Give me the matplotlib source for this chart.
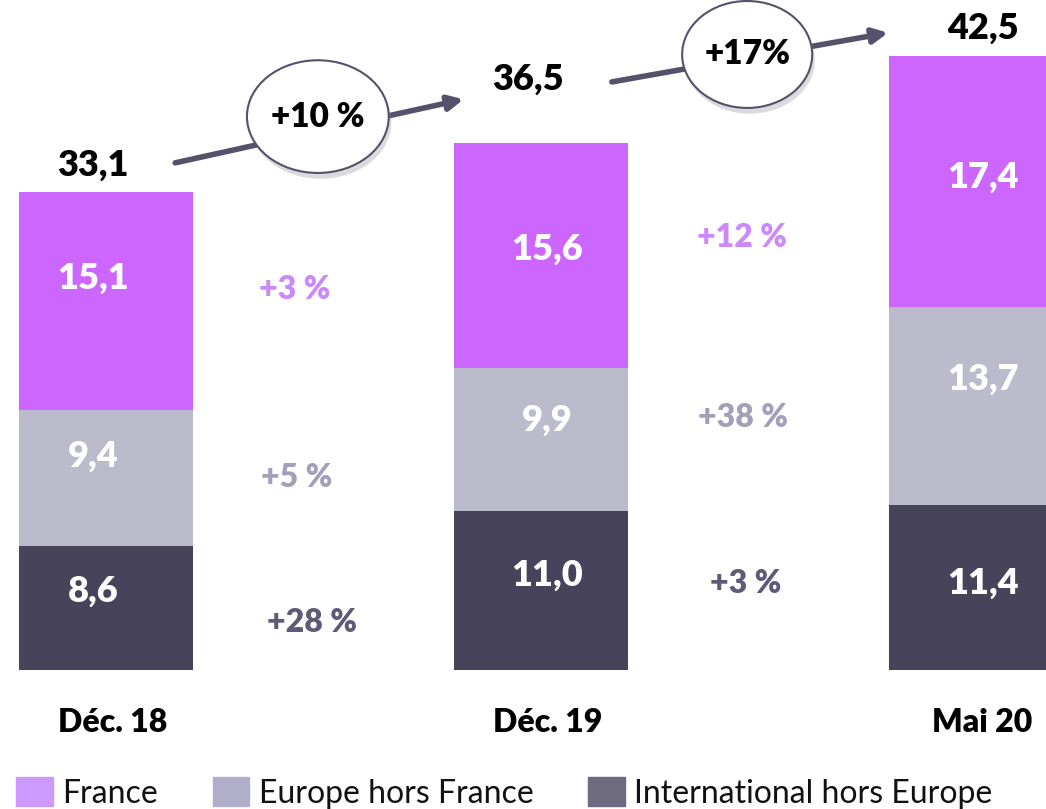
import matplotlib
matplotlib.use("Agg")
import matplotlib.pyplot as plt
from matplotlib.patches import Ellipse, Patch
import numpy as np

# data
periods = ["Déc. 18", "Déc. 19", "Mai 20"]
intl = [8.6, 11.0, 11.4]
europe = [9.4, 9.9, 13.7]
france = [15.1, 15.6, 17.4]
totals = ["33,1", "36,5", "42,5"]
growth_1 = ["+3 %", "+5 %", "+28 %"]      # Déc. 18 -> Déc. 19 (France, Europe, Intl)
growth_2 = ["+12 %", "+38 %", "+3 %"]     # Déc. 19 -> Mai 20
total_growth = ["+10 %", "+17%"]

c_fr, c_eu, c_int = "#cc66ff", "#bbbbcc", "#47435a"
c_fr_l, c_eu_l, c_int_l = "#cc99ff", "#b0aec8", "#6e6a80"
c_g = ["#cc88ff", "#a29fba", "#5e5a78"]
c_arrow = "#55516a"

bold = ["Lato", "DejaVu Sans"]
W = "heavy"

fig = plt.figure(figsize=(10.46, 8.09), dpi=100)
ax = fig.add_axes([0, 0, 1, 1])
ax.set_xlim(-0.2437, 2.161)
ax.set_ylim(-9.62, 46.37)
ax.axis("off")

x = np.arange(len(periods))
w = 0.398
ax.bar(x, intl, w, color=c_int)
ax.bar(x, europe, w, bottom=intl, color=c_eu)
ax.bar(x, france, w, bottom=np.add(intl, europe), color=c_fr)

def num(s):
    return float(s.replace(",", "."))

# segment values
dx = [-0.03, 0.015, 0.015]
lift = [[1.15, 1.5, 1.55], [1.05, 1.35, 0.45], [0.3, 1.85, 0.3]]
for i in range(len(x)):
    b = 0
    for j, v in enumerate((intl[i], europe[i], france[i])):
        ax.text(x[i] + dx[i], b + v / 2 + lift[i][j], f"{v:.1f}".replace(".", ","),
                ha="center", va="center", color="white", fontsize=26,
                fontweight=W, family=bold)
        b += v

# totals
tot_dy = [1.8, 4.4, 1.9]
tot_dx = [-0.03, -0.03, 0.015]
for i, t in enumerate(totals):
    ax.text(x[i] + tot_dx[i], num(t) + tot_dy[i], t, ha="center", va="center",
            fontsize=26, fontweight=W, color="black", family=bold)

# category labels
for i, p in enumerate(periods):
    ax.text(x[i] + 0.015, -3.6, p, ha="center", va="center", fontsize=23,
            fontweight=W, color="black", family=bold)

# growth per zone
g_y = [[26.3, 13.3, 3.3], [29.9, 17.5, 6.0]]
g_x = [[0.434, 0.439, 0.474], [1.462, 1.464, 1.471]]
for k, labels in enumerate([growth_1, growth_2]):
    for j, s in enumerate(labels):
        ax.text(g_x[k][j], g_y[k][j], s, ha="center", va="center", fontsize=23,
                fontweight=W, color=c_g[j], family=bold)

# total growth arrows with bubbles
arrows = [((0.159, 35.1), (0.822, 39.5)), ((1.163, 40.7), (1.798, 44.1))]
bubbles = [((0.487, 38.3), 0.326, 7.8), ((1.474, 42.6), 0.299, 7.4)]
for (a0, a1), (c, bw, bh), s in zip(arrows, bubbles, total_growth):
    ax.annotate("", xy=a1, xytext=a0,
                arrowprops=dict(arrowstyle="-|>", lw=4, color=c_arrow,
                                mutation_scale=22, shrinkA=0, shrinkB=0))
    ax.add_patch(Ellipse((c[0] + 0.006, c[1] - 0.4), bw, bh, color="#999999",
                         alpha=0.35, zorder=3, lw=0))
    ax.add_patch(Ellipse(c, bw, bh, facecolor="white", edgecolor=c_arrow,
                         lw=1.5, zorder=4))
    ax.text(c[0], c[1], s, ha="center", va="center", fontsize=24,
            fontweight=W, color="black", family=bold, zorder=5)

# legend
handles = [Patch(color=c_fr_l), Patch(color=c_eu_l), Patch(color=c_int_l)]
labels = ["France", "Europe hors France", "International hors Europe"]
leg = fig.legend(handles, labels, loc="lower left", bbox_to_anchor=(-0.012, -0.035),
                 ncol=3, frameon=False, handlelength=1.15, handleheight=1.0,
                 handletextpad=0.3, columnspacing=1.7,
                 prop={"family": bold, "size": 23})
for t in leg.get_texts():
    t.set_color("#111111")

fig.savefig("out.png", dpi=100)
